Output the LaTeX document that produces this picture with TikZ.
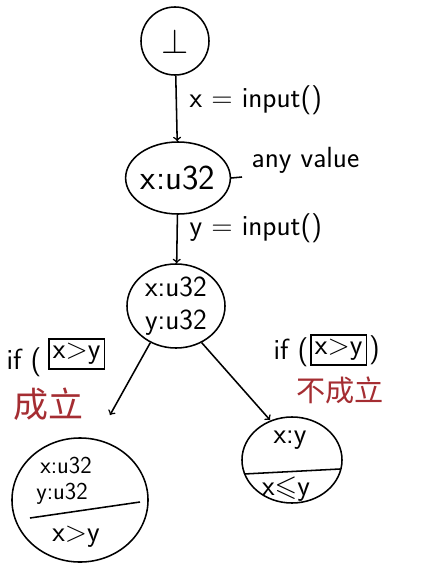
\documentclass[tikz,border=0pt]{standalone}
\usepackage{fontspec}
\usepackage{amssymb}
\newfontfamily\cjk{Noto Sans CJK SC}
\usetikzlibrary{shapes.geometric}
\begin{document}
\begin{tikzpicture}[x=0.025cm,y=-0.025cm]
\definecolor{inkcolor}{RGB}{0,0,0}
\definecolor{notecolor}{RGB}{165,45,50}
\definecolor{background}{RGB}{255,255,255}
\tikzset{
  state/.style={ellipse,draw=inkcolor,line width=1.1pt,inner sep=0pt},
  txt/.style={font=\sffamily\huge,inkcolor,inner sep=1pt},
  note/.style={font=\cjk\huge,notecolor,inner sep=1pt},
  cond/.style={draw=inkcolor,line width=1.1pt,inner sep=3pt,font=\sffamily\huge},
  flow/.style={->,line width=1.1pt,inkcolor},
  rule/.style={line width=1.1pt,inkcolor}
}
\fill [background] (0,0) rectangle (422,566);
\useasboundingbox (0,0) rectangle (422,566);
% states
\node [state,minimum width=1.7cm,minimum height=1.7cm] (bot) at (175,41) {\Huge$\bot$};
\node [state,minimum width=2.35cm,minimum height=1.8cm,font=\sffamily\Huge] (sx) at (178,178) {x:u32};
\node [state,minimum width=2.45cm,minimum height=2.1cm,align=left,font=\sffamily\huge] (sxy) at (176,306) {x:u32\\[-2pt]y:u32};
\node [state,minimum width=3.4cm,minimum height=3.1cm] (sgt) at (80,500) {};
\node [state,minimum width=2.5cm,minimum height=2.15cm] (sle) at (292,460) {};
% edges
\coordinate (tl) at (110,415);
\coordinate (tr) at (270,420);
\draw [flow] (bot) -- (sx);
\draw [flow] (sx) -- (sxy);
\draw [flow] (sxy.235) -- (tl);
\draw [flow] (sxy.305) -- (tr);
% labels
\node [txt,anchor=west] (inx) at (188,100) {x = input()};
\node [txt,anchor=west] (iny) at (188,228) {y = input()};
\node [txt,anchor=west] (anyv) at (250,160) {any value};
\coordinate (anyl) at (242,177);
\draw [rule] (sx.east) -- (anyl);
% conditions
\node [txt] (ifl) at (24,362) {if (};
\node [cond,anchor=west] (cl) at (48,354) {x>y};
\node [note,font=\cjk\Huge] (okl) at (48,404) {成立};
\node [txt,anchor=east] (ifr) at (310,352) {if (};
\node [cond,anchor=west] (cr) at (310,350) {x>y};
\node [txt,anchor=west] (ifrc) at (cr.east) {)};
\node [note] (okr) at (340,390) {不成立};
% contents of the lower states
\node [txt,font=\sffamily\LARGE] (gx) at (66,466) {x:u32};
\node [txt,font=\sffamily\LARGE] (gy) at (62,494) {y:u32};
\coordinate (gl) at (30,518);
\coordinate (gr) at (140,502);
\draw [rule] (gl) -- (gr);
\node [txt] (gc) at (76,537) {x>y};
\node [txt] (lx) at (290,440) {x:y};
\coordinate (ll) at (244,474);
\coordinate (lr) at (340,469);
\draw [rule] (ll) -- (lr);
\node [txt] (lc) at (286,489) {x$\leqslant$y};
\end{tikzpicture}
\end{document}
